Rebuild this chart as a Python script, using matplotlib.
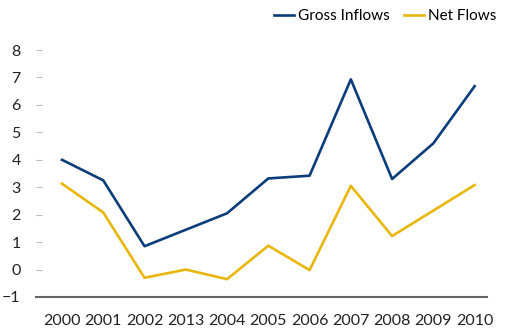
import matplotlib.pyplot as plt
import numpy as np

plt.rcParams['font.family'] = ['Lato', 'DejaVu Sans']

years = ['2000', '2001', '2002', '2013', '2004', '2005', '2006', '2007', '2008', '2009', '2010']
gross_inflows = [4.0, 3.25, 0.85, 1.45, 2.05, 3.32, 3.42, 6.93, 3.3, 4.6, 6.68]
net_flows = [3.13, 2.08, -0.3, 0.0, -0.35, 0.87, -0.02, 3.05, 1.22, 2.15, 3.08]

fig = plt.figure(figsize=(5.07, 3.33), dpi=100)
ax = fig.add_axes([36 / 507, 1 - 297 / 333, (487 - 36) / 507, (297 - 50) / 333])

x = np.arange(len(years))
ax.plot(x, gross_inflows, color='#0b3d7a', lw=1.9, label='Gross Inflows')
ax.plot(x, net_flows, color='#e8b70a', lw=1.9, label='Net Flows')

ax.set_xlim(-0.63, 10.3)
ax.set_ylim(-1, 8)
ax.set_yticks(range(-1, 9))
ax.set_yticklabels(['\u22121'] + [str(i) for i in range(0, 9)])
ax.set_xticks(x)
ax.set_xticklabels(years)

for s in ['top', 'right', 'left']:
    ax.spines[s].set_visible(False)
ax.spines['bottom'].set_color('#666666')
ax.spines['bottom'].set_linewidth(1.5)

ax.tick_params(axis='y', direction='in', length=4, color='#bbbbbb', pad=11, labelsize=11.5, labelcolor='#222222')
ax.tick_params(axis='x', length=0, pad=12, labelsize=11.5, labelcolor='#222222')

ax.legend(loc='lower right', bbox_to_anchor=(1.035, 1.085), ncol=2, frameon=False,
          fontsize=11, handlelength=1.3, columnspacing=0.9, handletextpad=0.3, borderaxespad=0)

fig.savefig('out.png', dpi=100)
